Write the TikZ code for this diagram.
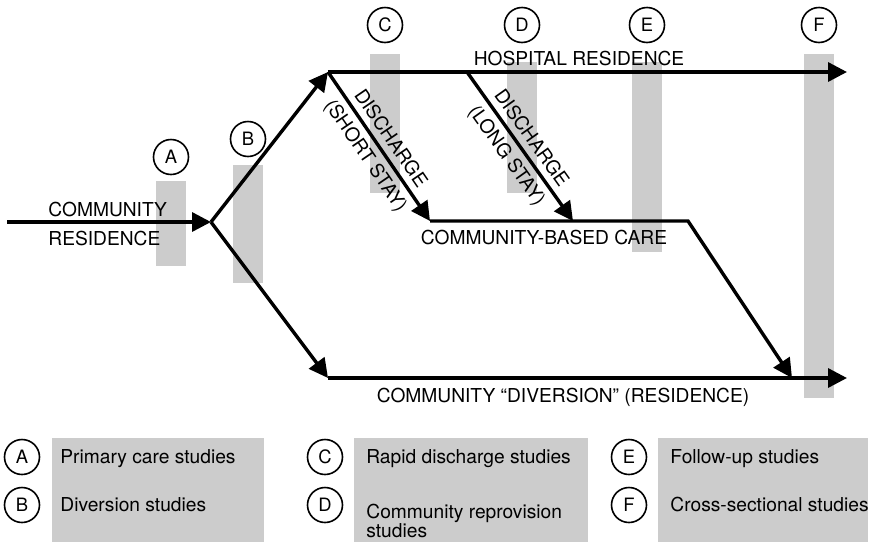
\documentclass[tikz,border=0pt]{standalone}
\usepackage{fontspec}
\setmainfont{TeX Gyre Heros}
\usepackage{tikz}
\usetikzlibrary{arrows.meta}
\newcommand{\defaultlabelsize}{9.6}
\newcommand{\markersize}{17.5pt}
\definecolor{bargray}{gray}{0.8}
\tikzstyle{route}=[line width=1.7pt, line join=miter]
\tikzstyle{flow}=[route, -{Triangle[length=9.5pt, width=9.5pt]}]
\tikzstyle{marker}=[draw, circle, line width=0.8pt, inner sep=0, minimum size=\markersize,
                    font=\fontsize{9.2}{10}\selectfont]
\tikzstyle{lbl}=[inner sep=0, font=\fontsize{\defaultlabelsize}{11}\selectfont]
\tikzstyle{slopelbl}=[lbl, sloped, inner sep=3pt]
\tikzstyle{studybar}=[fill=bargray]

\begin{document}
\begin{tikzpicture}[x=0.5pt, y=-0.5pt]
        \useasboundingbox (0,0) rectangle (884,542);
        % study windows
        \fill[studybar] (156,181) rectangle (186,266);
        \fill[studybar] (233,165) rectangle (263,283);
        \fill[studybar] (370,54) rectangle (400,193);
        \fill[studybar] (507,62) rectangle (537,193);
        \fill[studybar] (632,62) rectangle (662,252);
        \fill[studybar] (804,54) rectangle (834,398);
        \node[marker] (A) at (171,157) {A};
        \node[marker] (B) at (248,139) {B};
        \node[marker] (C) at (385,25) {C};
        \node[marker] (D) at (522,25) {D};
        \node[marker] (E) at (647,25) {E};
        \node[marker] (F) at (819,25) {F};
        % care pathways
        \coordinate (in) at (7,222);
        \coordinate (fork) at (211,222);
        \coordinate (hosp) at (328,72);
        \coordinate (hospout) at (847,72);
        \coordinate (divert) at (328,378);
        \coordinate (divout) at (847,378);
        \coordinate (cbc) at (430,221);
        \coordinate (cbcbend) at (688,221);
        \coordinate (longstay) at (467,72);
        \coordinate (cbclong) at (573,221);
        \coordinate (rejoin) at (792,378);
        \draw[flow] (in) -- (fork);
        \draw[flow] (fork) -- (hosp);
        \draw[flow] (fork) -- (divert);
        \draw[flow] (hosp) -- (hospout);
        \draw[flow] (divert) -- (divout);
        \draw[flow] (hosp) -- node[slopelbl, above] {DISCHARGE} node[slopelbl, below] {(SHORT STAY)} (cbc);
        \draw[flow] (longstay) -- node[slopelbl, above] {DISCHARGE} node[slopelbl, below] {(LONG STAY)} (cbclong);
        \draw[flow] (cbc) -- (cbcbend) -- (rejoin);
        \node[lbl, align=left, anchor=base west, font=\fontsize{\defaultlabelsize}{14.5}\selectfont] (resid) at (48,245) {COMMUNITY\\RESIDENCE};
        \node[lbl, anchor=base] (hosplbl) at (579,65) {HOSPITAL RESIDENCE};
        \node[lbl, anchor=base] (cbclbl) at (544,244) {COMMUNITY-BASED CARE};
        \node[lbl, anchor=base] (divlbl) at (563,402) {COMMUNITY “DIVERSION” (RESIDENCE)};
        % key
        \fill[studybar] (52,438) rectangle (264,542);
        \fill[studybar] (354,438) rectangle (588,542);
        \fill[studybar] (658,438) rectangle (868,542);
        \node[marker] (keyA) at (22,457) {A};
        \node[marker] (keyB) at (22,505) {B};
        \node[marker] (keyC) at (325,457) {C};
        \node[marker] (keyD) at (325,505) {D};
        \node[marker] (keyE) at (629,457) {E};
        \node[marker] (keyF) at (629,505) {F};
        \node[lbl, anchor=base west] (keyAtext) at (60,463) {Primary care studies};
        \node[lbl, anchor=base west] (keyBtext) at (60,511) {Diversion studies};
        \node[lbl, anchor=base west] (keyCtext) at (366,463) {Rapid discharge studies};
        \node[lbl, anchor=base west, align=left, font=\fontsize{\defaultlabelsize}{9.2}\selectfont] (keyDtext) at (366,537) {Community reprovision\\studies};
        \node[lbl, anchor=base west] (keyEtext) at (670,463) {Follow-up studies};
        \node[lbl, anchor=base west] (keyFtext) at (670,511) {Cross-sectional studies};
    \end{tikzpicture}
\end{document}
